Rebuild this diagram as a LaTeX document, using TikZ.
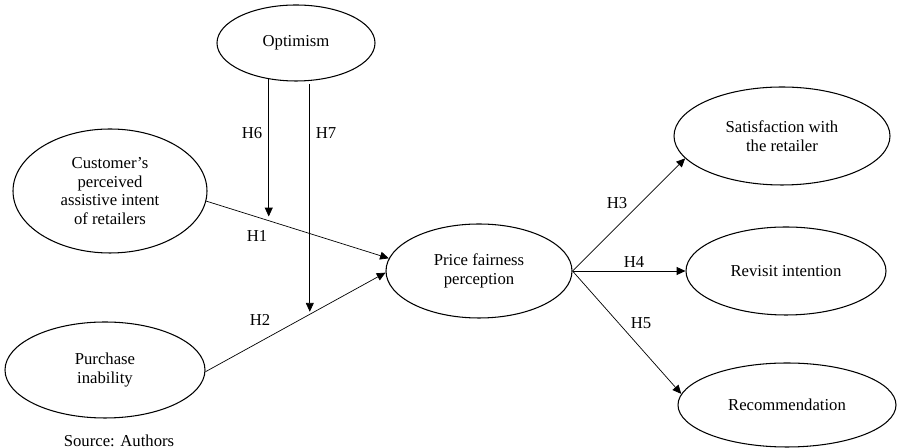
\documentclass[tikz,border=0pt]{standalone}
\usepackage{fontspec}
\setmainfont{Liberation Serif}
\usetikzlibrary{shapes.geometric}
\usetikzlibrary{arrows.meta}
\usetikzlibrary{calc}
\def\px{0.02cm}
\def\tfont{\fontsize{9.5}{10.5}\selectfont}
\begin{document}
\begin{tikzpicture}[x=\px,y=-\px,
	construct/.style={ellipse,draw,line width=0.6pt,inner sep=0pt,align=center,font=\tfont},
	hyp/.style={-{Triangle[length=5pt,width=4.5pt]},line width=0.4pt},
	lab/.style={font=\tfont,inner sep=0pt}]
\useasboundingbox (0,0) rectangle (897,448);
% constructs
\node[construct,minimum width=158*\px,minimum height=76*\px] (optimism) at (296,43) {Optimism};
\node[construct,minimum width=194*\px,minimum height=124*\px] (intent) at (110,191) {Customer's\\perceived\\assistive intent\\of retailers};
\node[construct,minimum width=200*\px,minimum height=96*\px] (inability) at (105,370) {Purchase\\inability};
\node[construct,minimum width=186*\px,minimum height=94*\px] (fairness) at (479,271) {Price fairness\\perception};
\node[construct,minimum width=216*\px,minimum height=98*\px] (satisf) at (782,136) {Satisfaction with\\the retailer};
\node[construct,minimum width=200*\px,minimum height=88*\px] (revisit) at (786,271) {Revisit intention};
\node[construct,minimum width=218*\px,minimum height=84*\px] (recomm) at (787,405) {Recommendation};
% direct effects
\draw[hyp] (intent.-6) -- (fairness.172);
\draw[hyp] (inability.-1) -- (fairness.181);
\draw[hyp] (fairness.east) -- (satisf.193);
\draw[hyp] (fairness.east) -- (revisit.west);
\draw[hyp] (fairness.east) -- (recomm.174);
% moderation
\coordinate (m6) at ($(intent.-6)!0.33!(fairness.172)$);
\coordinate (m7) at ($(inability.-1)!0.57!(fairness.181)$);
\draw[hyp,shorten >=2pt] (optimism.233) -- (optimism.233 |- m6);
\draw[hyp,shorten <=2pt,shorten >=2pt] (optimism.290) -- (optimism.290 |- m7);
% labels
\node[lab] (h1) at (257,236) {H1};
\node[lab] (h2) at (260,320) {H2};
\node[lab] (h3) at (617,203) {H3};
\node[lab] (h4) at (634,262) {H4};
\node[lab] (h5) at (641,323) {H5};
\node[lab] (h6) at (252,133) {H6};
\node[lab] (h7) at (326,133) {H7};
\node[lab] (source) at (119,441) {Source: Authors};
\end{tikzpicture}
\end{document}
